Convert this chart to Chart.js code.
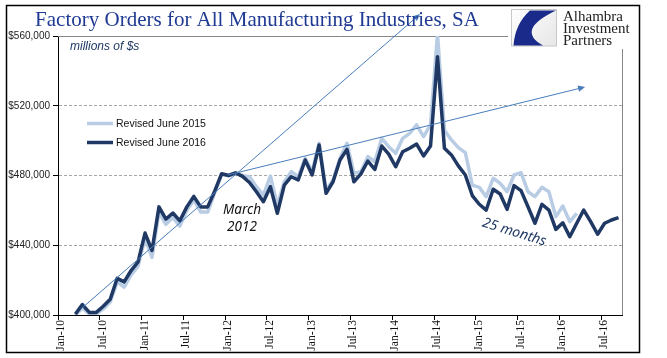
<!DOCTYPE html>
<html><head><meta charset="utf-8">
<script src="https://cdn.jsdelivr.net/npm/chart.js@4.4.1/dist/chart.umd.min.js"></script>
<style>html,body{margin:0;padding:0;background:#fff;}canvas{display:block;}</style>
</head><body>
<canvas id="c" width="667" height="358"></canvas>
<script>
// ---- categories (monthly, Mar-10 .. Sep-16) ----
const months = [
 'Mar-10','Apr-10','May-10','Jun-10','Jul-10','Aug-10','Sep-10','Oct-10','Nov-10','Dec-10',
 'Jan-11','Feb-11','Mar-11','Apr-11','May-11','Jun-11','Jul-11','Aug-11','Sep-11','Oct-11','Nov-11','Dec-11',
 'Jan-12','Feb-12','Mar-12','Apr-12','May-12','Jun-12','Jul-12','Aug-12','Sep-12','Oct-12','Nov-12','Dec-12',
 'Jan-13','Feb-13','Mar-13','Apr-13','May-13','Jun-13','Jul-13','Aug-13','Sep-13','Oct-13','Nov-13','Dec-13',
 'Jan-14','Feb-14','Mar-14','Apr-14','May-14','Jun-14','Jul-14','Aug-14','Sep-14','Oct-14','Nov-14','Dec-14',
 'Jan-15','Feb-15','Mar-15','Apr-15','May-15','Jun-15','Jul-15','Aug-15','Sep-15','Oct-15','Nov-15','Dec-15',
 'Jan-16','Feb-16','Mar-16','Apr-16','May-16','Jun-16','Jul-16','Aug-16','Sep-16'];
const firstMonthOffset = 2; // Mar-10 is two months after Jan-10 (axis origin)

// ---- series values (millions of $) ----
const revisedJune2015 = [
 400000,404000,400500,400500,403500,407500,419000,416000,423000,428000,
 444000,433000,459000,452000,456000,451000,460000,466000,459000,459000,470000,480500,
 480000,481500,480000,479300,473600,468800,479700,463000,476400,482200,479300,489900,
 482200,498500,471700,477400,489900,498500,481300,482200,490800,487900,501300,496500,
 492700,501300,504200,509000,502300,509000,561000,506000,500400,496000,493100,474500,
 473200,467900,478400,475500,470700,480300,481600,470700,467900,473200,470700,456400,
 462500,453500,458300];
const revisedJune2016 = [
 400500,406000,401500,401500,405000,409000,421000,419000,425500,430500,
 447000,437000,462000,455000,458500,454000,462000,468000,462000,462000,471000,481000,
 480000,481500,479500,476000,470700,465000,473600,458300,474500,479300,477400,488900,
 480300,497500,469800,476400,488900,495000,476400,480900,488300,483500,496900,492300,
 485000,493600,495600,498000,491200,496900,548100,495600,491800,485500,480300,468500,
 463500,460200,472100,469400,460600,474200,471300,462100,452600,463500,460200,449100,
 452900,444900,452600,460200,453500,446300,452600,454500,455800];

// ---- tick labels (every 6 months from Jan-10) ----
const tickLabels = ['Jan-10','Jul-10','Jan-11','Jul-11','Jan-12','Jul-12','Jan-13','Jul-13',
 'Jan-14','Jul-14','Jan-15','Jul-15','Jan-16','Jul-16'];
const yTicks = [400000, 440000, 480000, 520000, 560000];

// ---- trend arrows (x in months from Jan-10, y in $ millions) ----
const trendSteep = [{x: 3.45, y: 404000}, {x: 52.0, y: 572600}];
const trendFlat  = [{x: 24.4, y: 480300}, {x: 75.7, y: 530750}];

const DARK = '#1f3864', LIGHT = '#b8cce4', TREND = '#4a7ebb';

function toPoints(vals) {
  return vals.map((v, i) => ({x: firstMonthOffset + i + 0.5, y: v}));
}

const decor = {
  id: 'decor',
  beforeDraw(chart) {
    const c = chart.ctx;
    c.save(); c.fillStyle = '#fff'; c.fillRect(0, 0, chart.width, chart.height); c.restore();
  },
  beforeDatasetsDraw(chart) {
    const c = chart.ctx, a = chart.chartArea;
    c.save(); c.strokeStyle = '#868686'; c.lineWidth = 1;
    c.beginPath();
    c.moveTo(a.left, Math.round(a.top) + 0.5);
    c.lineTo(Math.round(a.right) + 0.5, Math.round(a.top) + 0.5);
    c.lineTo(Math.round(a.right) + 0.5, a.bottom);
    c.stroke(); c.restore();
  },
  afterDatasetsDraw(chart) {
    const c = chart.ctx, xs = chart.scales.x, ys = chart.scales.y;
    // trend arrows
    [trendSteep, trendFlat].forEach(t => {
      const x1 = xs.getPixelForValue(t[0].x), y1 = ys.getPixelForValue(t[0].y);
      const x2 = xs.getPixelForValue(t[1].x), y2 = ys.getPixelForValue(t[1].y);
      const ang = Math.atan2(y2 - y1, x2 - x1);
      c.save();
      c.strokeStyle = TREND; c.fillStyle = TREND; c.lineWidth = 1;
      c.beginPath(); c.moveTo(x1, y1);
      c.lineTo(x2 - 5 * Math.cos(ang), y2 - 5 * Math.sin(ang)); c.stroke();
      const L = 7, W = 3.2;
      c.beginPath(); c.moveTo(x2, y2);
      c.lineTo(x2 - L * Math.cos(ang) + W * Math.sin(ang), y2 - L * Math.sin(ang) - W * Math.cos(ang));
      c.lineTo(x2 - L * Math.cos(ang) - W * Math.sin(ang), y2 - L * Math.sin(ang) + W * Math.cos(ang));
      c.closePath(); c.fill();
      c.restore();
    });
    // legend
    const ds = chart.data.datasets;
    const items = [ds[1], ds[0]];
    c.save();
    items.forEach((d, i) => {
      const y = 123.5 + i * 19;
      c.strokeStyle = d.borderColor; c.lineWidth = 3.5; c.lineCap = 'butt';
      c.beginPath(); c.moveTo(87, y); c.lineTo(113, y); c.stroke();
      c.fillStyle = '#111'; c.font = '10.5px "Liberation Sans", Arial, sans-serif';
      c.textBaseline = 'middle'; c.textAlign = 'left';
      c.fillText(d.label, 116, y + 0.5);
    });
    // units note
    c.fillStyle = DARK; c.font = 'italic 12px "Liberation Sans", Arial, sans-serif';
    c.textBaseline = 'alphabetic'; c.fillText('millions of $s', 70, 50);
    // March 2012
    c.fillStyle = '#111'; c.font = 'italic 13.5px "Noto Sans", sans-serif'; c.textAlign = 'center';
    c.fillText('March', 242, 214);
    c.fillText('2012', 242, 231);
    // 25 months
    c.translate(513, 236); c.rotate(17 * Math.PI / 180);
    c.fillStyle = DARK; c.font = 'italic 14px "Noto Sans", sans-serif';
    c.fillText('25 months', 0, 0);
    c.restore();
  },
  afterDraw(chart) {
    const c = chart.ctx;
    c.save();
    // logo area
    c.fillStyle = '#fff'; c.fillRect(508, 7, 130, 42);
    const g = c.createLinearGradient(512, 9, 557, 46);
    g.addColorStop(0, '#ffffff'); g.addColorStop(1, '#e6e6e6');
    c.fillStyle = g; c.fillRect(512, 9.5, 45, 36.5);
    c.strokeStyle = '#c8c8c8'; c.lineWidth = 1; c.strokeRect(511.5, 9.5, 45, 36.5);
    c.fillStyle = '#1a2a8a';
    c.beginPath();
    c.moveTo(530, 10.5);
    c.quadraticCurveTo(515, 24, 513.5, 45.5);
    c.lineTo(543, 45.5);
    c.quadraticCurveTo(515, 30, 556, 10.5);
    c.closePath(); c.fill();
    c.fillStyle = '#222'; c.font = '15px "Liberation Serif", "Times New Roman", serif';
    c.textAlign = 'left'; c.textBaseline = 'alphabetic';
    c.fillText('Alhambra', 563, 21);
    c.fillText('Investment', 563, 33);
    c.fillText('Partners', 563, 45);
    // title
    c.fillStyle = '#1f3a93'; c.font = '21px "Liberation Serif", "Times New Roman", serif';
    c.textAlign = 'center';
    c.fillText('Factory Orders for All Manufacturing Industries, SA', 257, 26);
    // outer border
    c.strokeStyle = '#000'; c.lineWidth = 1.5;
    c.strokeRect(6.5, 5.5, 633, 347);
    c.restore();
  }
};

new Chart(document.getElementById('c'), {
  type: 'line',
  data: {
    datasets: [
      {label: 'Revised June 2016', data: toPoints(revisedJune2016), borderColor: DARK,
       borderWidth: 3.5, pointRadius: 0, tension: 0, borderJoinStyle: 'round', order: 0},
      {label: 'Revised June 2015', data: toPoints(revisedJune2015), borderColor: LIGHT,
       borderWidth: 3.5, pointRadius: 0, tension: 0, borderJoinStyle: 'round', order: 1}
    ]
  },
  options: {
    responsive: false, animation: false, devicePixelRatio: 1,
    layout: {padding: {left: 0, top: 36, right: 45, bottom: 0}},
    plugins: {legend: {display: false}, tooltip: {enabled: false}, title: {display: false}},
    scales: {
      x: {
        type: 'linear', min: 0, max: 81,
        afterFit: s => { s.height = 43; },
        grid: {drawOnChartArea: false, drawTicks: true, tickLength: 5, tickColor: '#000'},
        border: {color: '#000', width: 1},
        ticks: {
          stepSize: 6, includeBounds: false, autoSkip: false, maxTicksLimit: 30,
          minRotation: 90, maxRotation: 90, padding: 0, labelOffset: 3,
          color: '#111', font: {family: '"Liberation Serif", "Times New Roman", serif', size: 11.5},
          callback: v => tickLabels[Math.round(v / 6)]
        }
      },
      y: {
        min: 400000, max: 560000,
        afterFit: s => { s.width = 58; },
        afterBuildTicks: s => { s.ticks = yTicks.map(v => ({value: v})); },
        grid: {
          color: ctx => (ctx.tick && (ctx.tick.value === 400000 || ctx.tick.value === 560000)) ? 'rgba(0,0,0,0)' : '#a6a6a6',
          tickColor: '#000', tickLength: 5, tickBorderDash: []
        },
        border: {color: '#000', width: 1, dash: [3, 2]},
        ticks: {
          padding: 3, color: '#222',
          font: {family: '"Liberation Sans", Arial, sans-serif', size: 10},
          callback: v => '$' + Number(v).toLocaleString('en-US')
        }
      }
    }
  },
  plugins: [decor]
});
</script>
</body></html>
